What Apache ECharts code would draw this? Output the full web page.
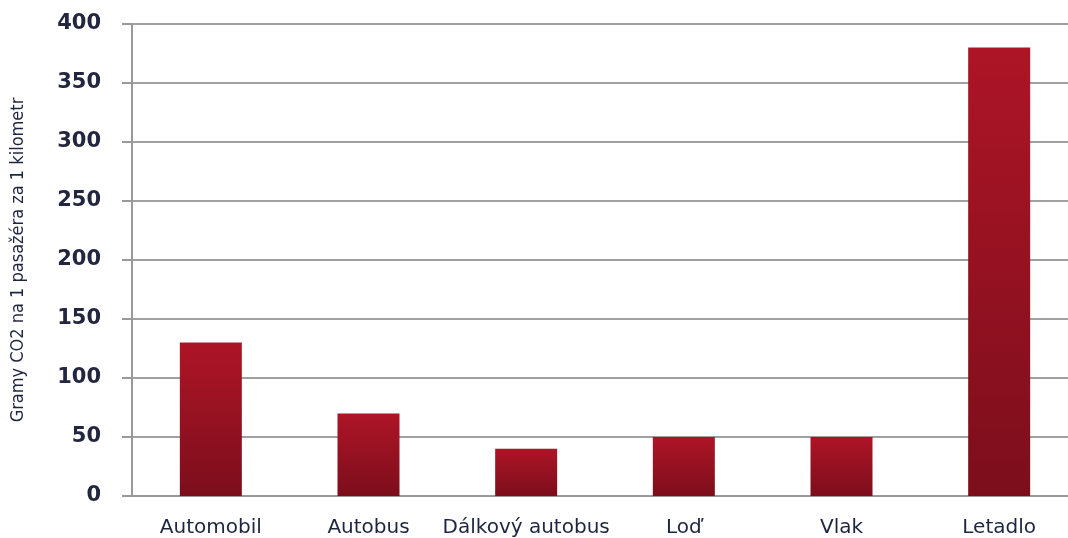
<!DOCTYPE html>
<html>
<head>
<meta charset="utf-8">
<script src="https://cdn.jsdelivr.net/npm/echarts@6/dist/echarts.min.js"></script>
<style>
	html, body { margin: 0; padding: 0; background: #fff; }
	#chart { width: 1068px; height: 538px; }
</style>
</head>
<body>
<div id="chart"></div>
<script>
var categories = ['Automobil', 'Autobus', 'Dálkový autobus', 'Loď', 'Vlak', 'Letadlo'];
var values = [130, 70, 40, 50, 50, 380];
var yTicks = [0, 50, 100, 150, 200, 250, 300, 350, 400];

var myChart = echarts.init(document.getElementById('chart'));

var option = {
	backgroundColor: '#fff',
	animation: false,
	grid: {
		left: 132,
		right: -10,
		top: 24,
		bottom: 42,
		outerBoundsMode: 'none',
		containLabel: false
	},
	xAxis: {
		type: 'category',
		data: categories,
		axisLine: {
			lineStyle: { color: '#9a9a9a', width: 2 }
		},
		axisTick: {
			length: 7,
			lineStyle: { color: '#9a9a9a', width: 2 }
		},
		axisLabel: {
			interval: 0,
			margin: 22,
			color: '#1e2540',
			fontFamily: 'DejaVu Sans',
			fontSize: 20
		}
	},
	yAxis: {
		type: 'value',
		min: yTicks[0],
		max: yTicks[yTicks.length - 1],
		interval: 50,
		name: 'Gramy CO2 na 1 pasažéra za 1 kilometr',
		nameLocation: 'middle',
		nameGap: 105,
		nameTextStyle: {
			color: '#1e2540',
			fontFamily: 'Liberation Sans Narrow, DejaVu Sans Condensed, sans-serif',
			fontSize: 18
		},
		axisLine: {
			show: true,
			lineStyle: { color: '#9a9a9a', width: 2 }
		},
		axisTick: {
			show: true,
			length: 10,
			lineStyle: { color: '#9a9a9a', width: 2 }
		},
		axisLabel: {
			margin: 31,
			color: '#22263f',
			fontFamily: 'DejaVu Sans',
			fontWeight: 'bold',
			fontSize: 21
		},
		splitLine: {
			lineStyle: { color: '#a0a0a0', width: 2 }
		}
	},
	series: [{
		type: 'bar',
		barWidth: 62,
		data: values,
		itemStyle: {
			color: new echarts.graphic.LinearGradient(0, 0, 0, 1, [
				{ offset: 0, color: '#ad1526' },
				{ offset: 1, color: '#7c0e1c' }
			])
		}
	}]
};

myChart.setOption(option);
</script>
</body>
</html>
